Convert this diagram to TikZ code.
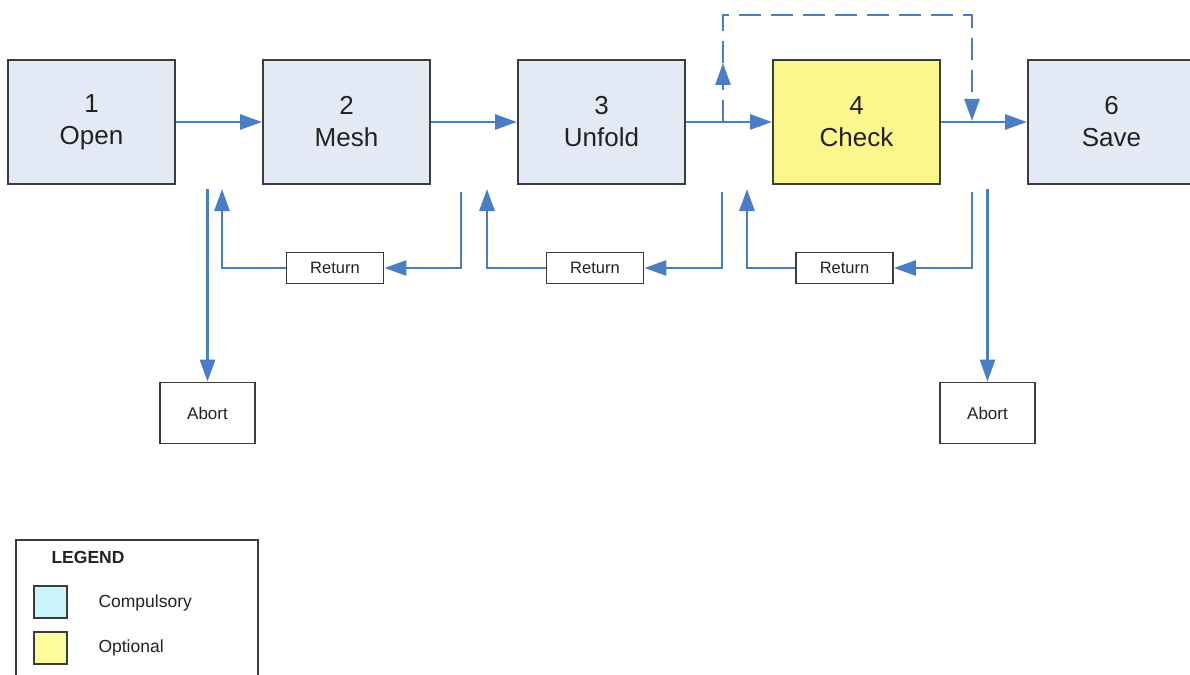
\documentclass[tikz,border=0pt]{standalone}
\usepackage{fontspec}
\setmainfont{Liberation Sans}
\usetikzlibrary{arrows.meta}
\definecolor{arrblue}{HTML}{4A7EC4}
\definecolor{boxfill}{HTML}{E4EAF5}
\definecolor{chkfill}{HTML}{FAF78C}
\definecolor{edgegray}{HTML}{3C3C3C}
\definecolor{cyanfill}{HTML}{C8F4FA}
\definecolor{yelfill}{HTML}{FDFB9C}
\definecolor{txt}{HTML}{222222}
\begin{document}
\begin{tikzpicture}[x=1pt,y=-1pt,
  stepbox/.style={draw=edgegray,line width=2pt,fill=boxfill,minimum width=167pt,minimum height=124pt,inner sep=0pt,align=center,text=txt,font=\fontsize{26}{32}\selectfont},
  retbox/.style={draw=edgegray,line width=1.8pt,fill=white,minimum width=97pt,minimum height=31pt,inner sep=0pt,text=txt,font=\fontsize{16.5}{20}\selectfont},
  abortbox/.style={draw=edgegray,line width=1.8pt,fill=white,minimum width=95pt,minimum height=61pt,inner sep=0pt,text=txt,font=\fontsize{17}{20}\selectfont},
  arr/.style={draw=arrblue,line width=2.8pt,-{Triangle[length=22pt,width=15pt]}},
  bypass/.style={dash pattern=on 22pt off 10pt},
  swatch/.style={draw=edgegray,line width=1.8pt,minimum width=33pt,minimum height=32pt,inner sep=0pt},
  legtext/.style={anchor=west,text=txt,font=\fontsize{17.5}{20}\selectfont}]
\useasboundingbox (0,0) rectangle (1190,674);
\fill[white] (0,0) rectangle (1190,674);

% main steps
\node[stepbox] (open)   at (91.5,122)  {1\\Open};
\node[stepbox] (mesh)   at (346.5,122) {2\\Mesh};
\node[stepbox] (unfold) at (601.5,122) {3\\Unfold};
\node[stepbox,fill=chkfill] (check) at (856.5,122) {4\\Check};
\node[stepbox] (save)   at (1111.5,122) {6\\Save};

% forward arrows
\draw[arr] (open.east) -- (mesh.west);
\draw[arr] (mesh.east) -- (unfold.west);
\draw[arr] (unfold.east) -- (check.west);
\draw[arr] (check.east) -- (save.west);

% dashed bypass
\coordinate (d1) at (723,122);
\coordinate (dm) at (723,63);
\coordinate (dt) at (723,15);
\coordinate (d3) at (972,121);
\draw[arr,bypass] (d1) -- (dm);
\draw[arr,bypass] (dm) -- (dt) -| (d3);

% return boxes
\node[retbox] (ret1) at (335,268) {Return};
\node[retbox] (ret2) at (595,268) {Return};
\node[retbox] (ret3) at (844.5,268) {Return};

\coordinate (m1) at (461,192);
\coordinate (o1) at (222,189);
\coordinate (u1) at (722,192);
\coordinate (m2) at (487,189);
\coordinate (c1) at (972,192);
\coordinate (u2) at (747,189);

\draw[arr] (m1) |- (ret1.east);
\draw[arr] (ret1.west) -| (o1);
\draw[arr] (u1) |- (ret2.east);
\draw[arr] (ret2.west) -| (m2);
\draw[arr] (c1) |- (ret3.east);
\draw[arr] (ret3.west) -| (u2);

% abort
\node[abortbox] (abort1) at (207.5,413) {Abort};
\node[abortbox] (abort2) at (987.5,413) {Abort};
\coordinate (a1) at (207.5,189);
\coordinate (a2) at (987.5,189);
\draw[arr] (a1) -- (abort1.north);
\draw[arr] (a2) -- (abort2.north);

% legend
\node[draw=edgegray,line width=1.8pt,minimum width=242pt,minimum height=160pt,inner sep=0pt] (legend) at (137,620) {};
\node[anchor=west,text=txt,font=\bfseries\fontsize{17.5}{20}\selectfont] (legtitle) at (48,557) {LEGEND};
\node[swatch,fill=cyanfill] (sw1) at (50.5,602) {};
\node[swatch,fill=yelfill] (sw2) at (50.5,648) {};
\node[legtext] (lt1) at (95,603) {Compulsory};
\node[legtext] (lt2) at (95,648) {Optional};
\end{tikzpicture}
\end{document}
